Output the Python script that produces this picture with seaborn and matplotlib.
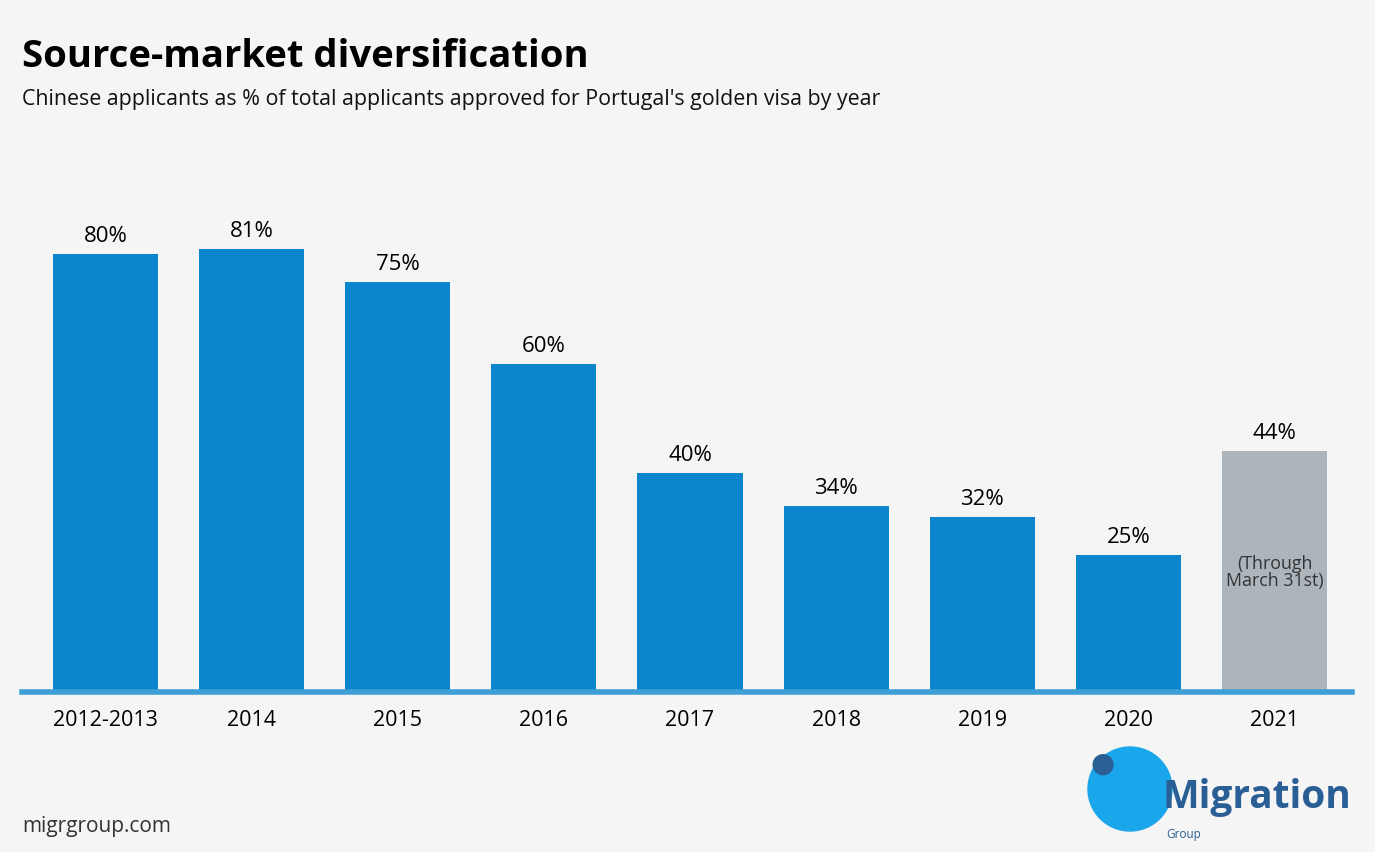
import matplotlib
matplotlib.use('Agg')
import matplotlib.pyplot as plt
import matplotlib.patches as mpatches
import pandas as pd
import seaborn as sns

years = ['2012-2013', '2014', '2015', '2016', '2017', '2018', '2019', '2020', '2021']
share = [80, 81, 75, 60, 40, 34, 32, 25, 44]
value_labels = ['80%', '81%', '75%', '60%', '40%', '34%', '32%', '25%', '44%']
partial_note = '(Through\nMarch 31st)'

bg = '#f5f5f5'
blue = '#0b86cd'
grey = '#adb5bc'

sns.set_style('white')
plt.rcParams['font.family'] = ['Open Sans', 'DejaVu Sans']

df = pd.DataFrame({'year': years, 'share': share})
colors = [blue] * (len(years) - 1) + [grey]

fig = plt.figure(figsize=(13.75, 8.53), dpi=100, facecolor=bg)
ax = fig.add_axes([22 / 1375, 160 / 853, 1330 / 1375, 547 / 853])
ax.set_facecolor(bg)

sns.barplot(data=df, x='year', y='share', hue='year', palette=colors,
            legend=False, width=0.72, saturation=1, linewidth=0, ax=ax)

ax.set_xlim(-0.571, 8.53)
ax.set_ylim(0, 100)
for side in ['top', 'right', 'left']:
    ax.spines[side].set_visible(False)
ax.spines['bottom'].set_color('#3d9fd6')
ax.spines['bottom'].set_linewidth(4)
ax.set_yticks([])
ax.set_xlabel('')
ax.set_ylabel('')
ax.tick_params(axis='x', length=0, pad=12, labelsize=15.5, labelcolor='#000000')

for i, (v, lab) in enumerate(zip(share, value_labels)):
    ax.text(i, v + 1.5, lab, ha='center', va='bottom', fontsize=16, color='#000000')

ax.text(len(years) - 1, 22, partial_note, ha='center', va='center',
        fontsize=12.8, color='#333333', linespacing=0.95)

fig.text(22 / 1375, 1 - 67 / 853, 'Source-market diversification', fontsize=27.5,
         fontweight='bold', color='#000000', ha='left', va='baseline')
fig.text(22 / 1375, 1 - 105 / 853,
         "Chinese applicants as % of total applicants approved for Portugal's golden visa by year",
         fontsize=15.4, color='#111111', ha='left', va='baseline')
fig.text(22 / 1375, 1 - 832 / 853, 'migrgroup.com', fontsize=15, color='#333333',
         ha='left', va='baseline')

# rough logo
globe = mpatches.Ellipse((1130 / 1375, 1 - 790 / 853), 84 / 1375, 84 / 853,
                         transform=fig.transFigure, color='#1aa6ea', zorder=1)
fig.patches.append(globe)
fig.text(1103 / 1375, 1 - 772 / 853, '\u25CF', fontsize=20, color='#2a5f95',
         ha='center', va='baseline')
fig.text(1162 / 1375, 1 - 808 / 853, 'Migration', fontsize=28, fontweight='bold',
         color='#2a5f95', ha='left', va='baseline')
fig.text(1166 / 1375, 1 - 838 / 853, 'Group', fontsize=8.5, color='#2a5f95',
         ha='left', va='baseline')

fig.savefig('out.png', dpi=100, facecolor=bg)
